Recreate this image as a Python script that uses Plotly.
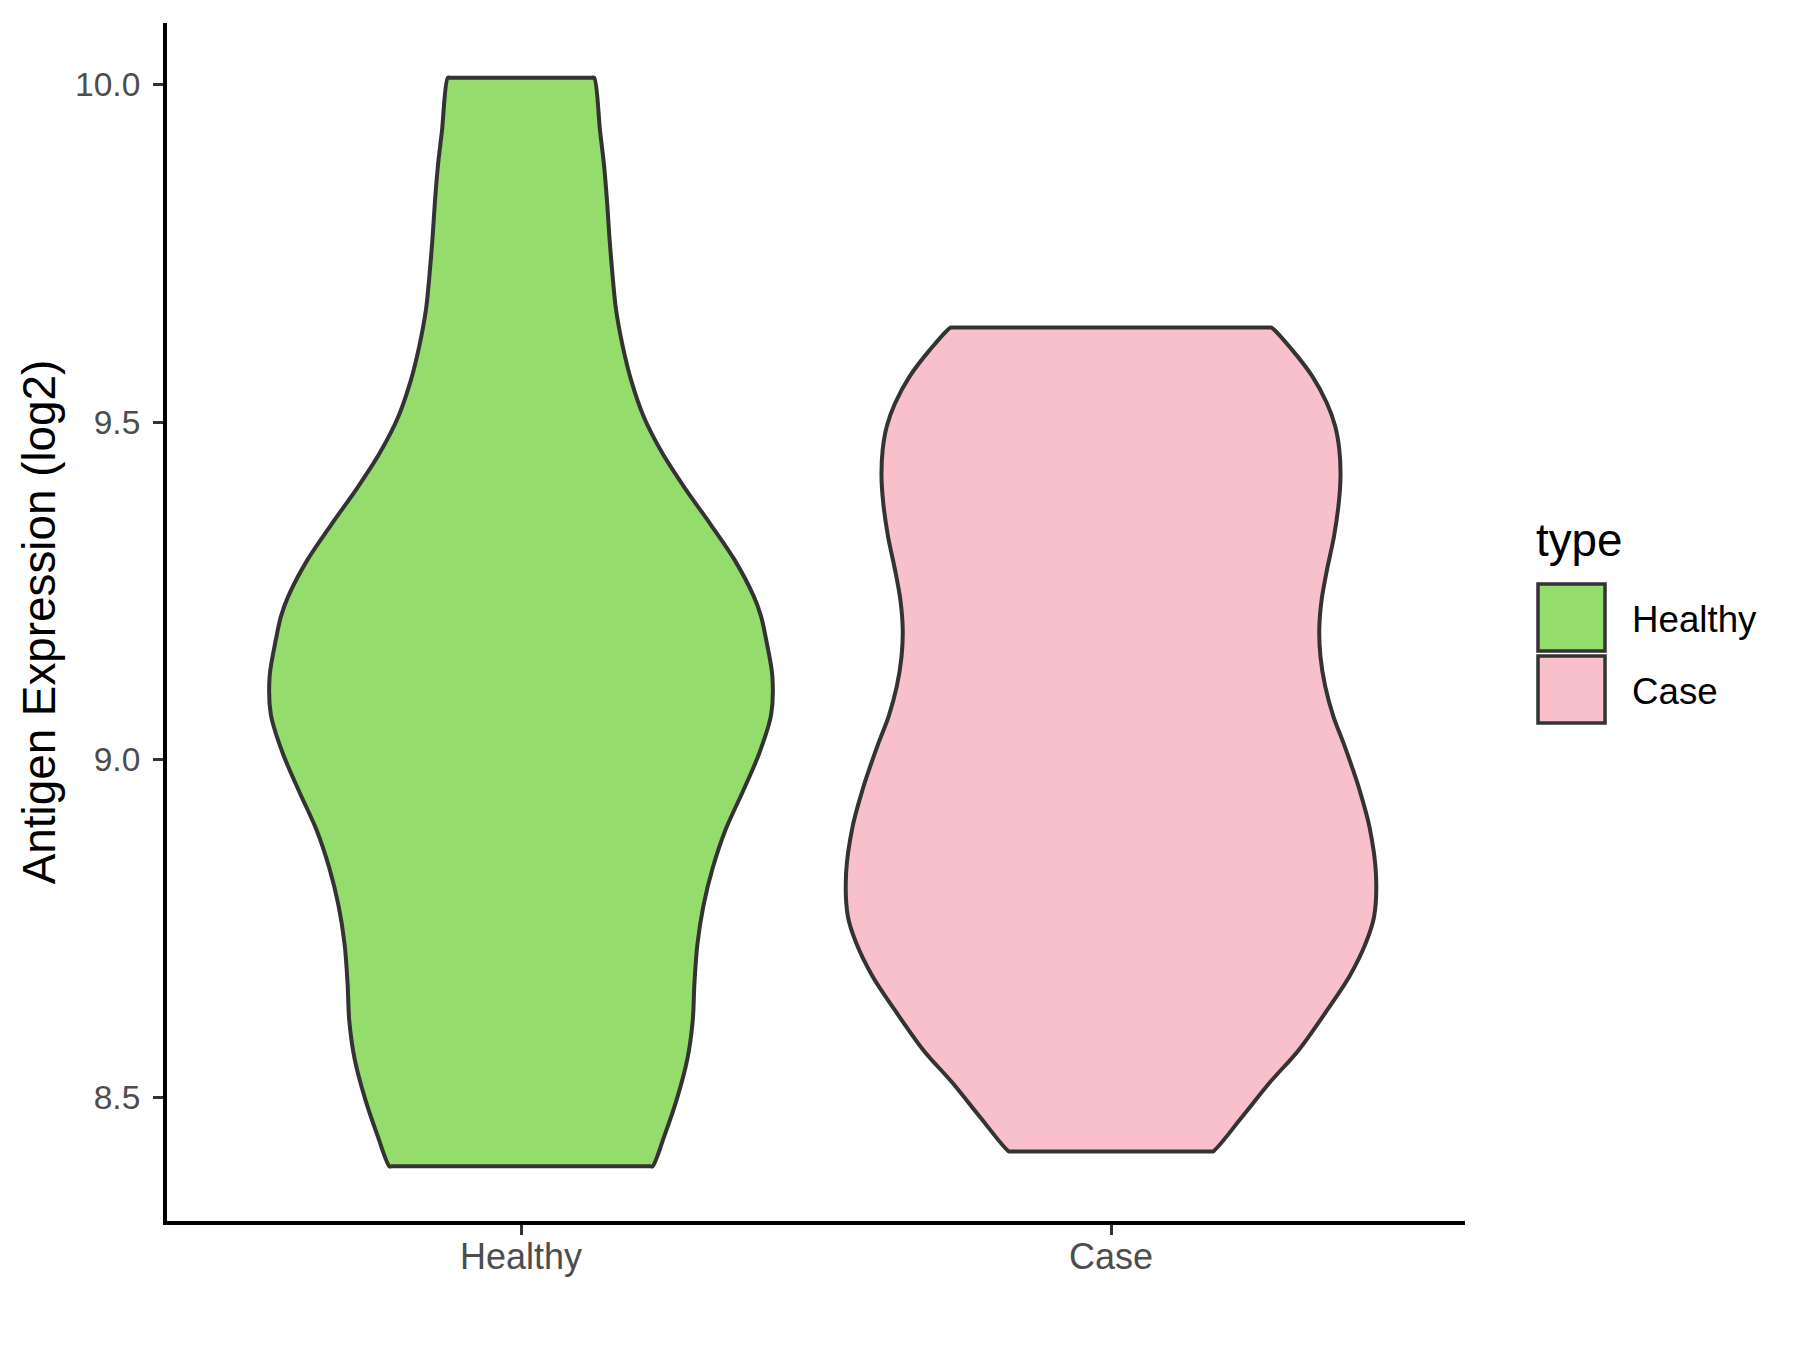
import plotly.graph_objects as go

# ---- data ----
categories = ["Healthy", "Case"]
category_pos = [1, 2]

# violin outline profiles: y level (log2 expression) and half-width (in category units)
healthy_y = [10.010, 9.931, 9.878, 9.825, 9.772, 9.719, 9.667, 9.614, 9.561, 9.508,
             9.455, 9.402, 9.349, 9.296, 9.243, 9.212, 9.180, 9.124, 9.067, 9.010,
             8.953, 8.897, 8.840, 8.783, 8.727, 8.670, 8.613, 8.557, 8.500, 8.443, 8.398]
healthy_half = [0.124, 0.134, 0.141, 0.146, 0.150, 0.155, 0.161, 0.172, 0.187, 0.208,
                0.239, 0.278, 0.321, 0.362, 0.394, 0.407, 0.415, 0.426, 0.424, 0.404,
                0.376, 0.347, 0.325, 0.309, 0.299, 0.294, 0.291, 0.282, 0.265, 0.243, 0.223]

case_y = [9.640, 9.607, 9.568, 9.528, 9.494, 9.459, 9.420, 9.380, 9.331, 9.281,
          9.237, 9.193, 9.153, 9.109, 9.064, 9.025, 8.988, 8.956, 8.901, 8.832,
          8.768, 8.729, 8.679, 8.625, 8.570, 8.521, 8.471, 8.420]
case_half = [0.272, 0.307, 0.341, 0.366, 0.380, 0.387, 0.389, 0.386, 0.378, 0.366,
             0.357, 0.353, 0.355, 0.363, 0.377, 0.394, 0.409, 0.421, 0.438, 0.449,
             0.446, 0.432, 0.404, 0.363, 0.318, 0.268, 0.222, 0.173]

y_tick_vals = [8.5, 9.0, 9.5, 10.0]
y_tick_text = ["8.5", "9.0", "9.5", "10.0"]
y_range = [8.317, 10.091]
x_range = [0.4, 2.6]

fill_colors = {"Healthy": "#94DC6B", "Case": "#F8C0CB"}
outline = "#333333"
FONT = "Liberation Sans, Arial, sans-serif"

W, H = 1800, 1350
OFF = 8  # page body margin
# plot panel edges in screen pixels
PX0, PX1, PY0, PY1 = 167, 1465, 23, 1221
ML = PX0 - OFF
MT = PY0 - OFF
MR = W - (PX1 - OFF)
MB = H - (PY1 - OFF)

def paper_x(px):
    return (px - OFF - ML) / (W - ML - MR)

def paper_y(py):
    return (H - MB - (py - OFF)) / (H - MT - MB)

fig = go.Figure()

EPS = 0.004  # helper points to keep the flat ends straight under spline smoothing
profiles = {"Healthy": (healthy_y, healthy_half), "Case": (case_y, case_half)}
for cat, pos in zip(categories, category_pos):
    ys, hs = profiles[cat]
    xs, yy = [], []
    for y, h in zip(ys, hs):
        xs.append(pos - h); yy.append(y)
    xs += [pos - hs[-1] + EPS, pos + hs[-1] - EPS]; yy += [ys[-1], ys[-1]]
    for y, h in zip(reversed(ys), reversed(hs)):
        xs.append(pos + h); yy.append(y)
    xs += [pos + hs[0] - EPS, pos - hs[0] + EPS, pos - hs[0]]
    yy += [ys[0], ys[0], ys[0]]
    fig.add_trace(go.Scatter(
        x=xs, y=yy, mode="lines", fill="toself",
        fillcolor=fill_colors[cat],
        line=dict(color=outline, width=4, shape="spline", smoothing=0.9),
        name=cat, showlegend=False, hoverinfo="skip",
    ))

# manual legend (ggplot-style large keys)
shapes = []
annotations = []
key_x0, key_x1 = 1538, 1605
keys = [("Healthy", 584, 651, 619), ("Case", 656, 723, 691)]
for cat, y0, y1, ty in keys:
    shapes.append(dict(type="rect", xref="paper", yref="paper",
                       x0=paper_x(key_x0), x1=paper_x(key_x1),
                       y0=paper_y(y1), y1=paper_y(y0),
                       fillcolor=fill_colors[cat], line=dict(color=outline, width=3.5)))
    annotations.append(dict(text=cat, xref="paper", yref="paper",
                            x=paper_x(1630), y=paper_y(ty), xanchor="left", yanchor="middle",
                            showarrow=False, font=dict(family=FONT, size=36.7, color="black")))
annotations.append(dict(text="type", xref="paper", yref="paper",
                        x=paper_x(1534), y=paper_y(540), xanchor="left", yanchor="middle",
                        showarrow=False, font=dict(family=FONT, size=45.8, color="black")))

fig.update_layout(
    width=W, height=H,
    margin=dict(l=ML, r=MR, t=MT, b=MB, pad=0),
    paper_bgcolor="white", plot_bgcolor="white",
    showlegend=False,
    shapes=shapes, annotations=annotations,
    font=dict(family=FONT),
)
fig.update_xaxes(
    range=x_range, tickvals=category_pos, ticktext=categories,
    showgrid=False, zeroline=False,
    showline=True, linecolor="black", linewidth=4,
    ticks="outside", ticklen=10, tickwidth=3, tickcolor=outline,
    ticklabelstandoff=-9,
    tickfont=dict(family=FONT, size=36, color="#4D4D4D"),
)
fig.update_yaxes(
    range=y_range, tickvals=y_tick_vals, ticktext=y_tick_text,
    showgrid=False, zeroline=False,
    showline=True, linecolor="black", linewidth=4,
    ticks="outside", ticklen=10, tickwidth=3, tickcolor=outline,
    ticklabelstandoff=6,
    tickfont=dict(family=FONT, size=33.5, color="#4D4D4D"),
    title=dict(text="Antigen Expression (log2)", standoff=6,
               font=dict(family=FONT, size=45.8, color="black")),
)

fig.write_html("out.html")
